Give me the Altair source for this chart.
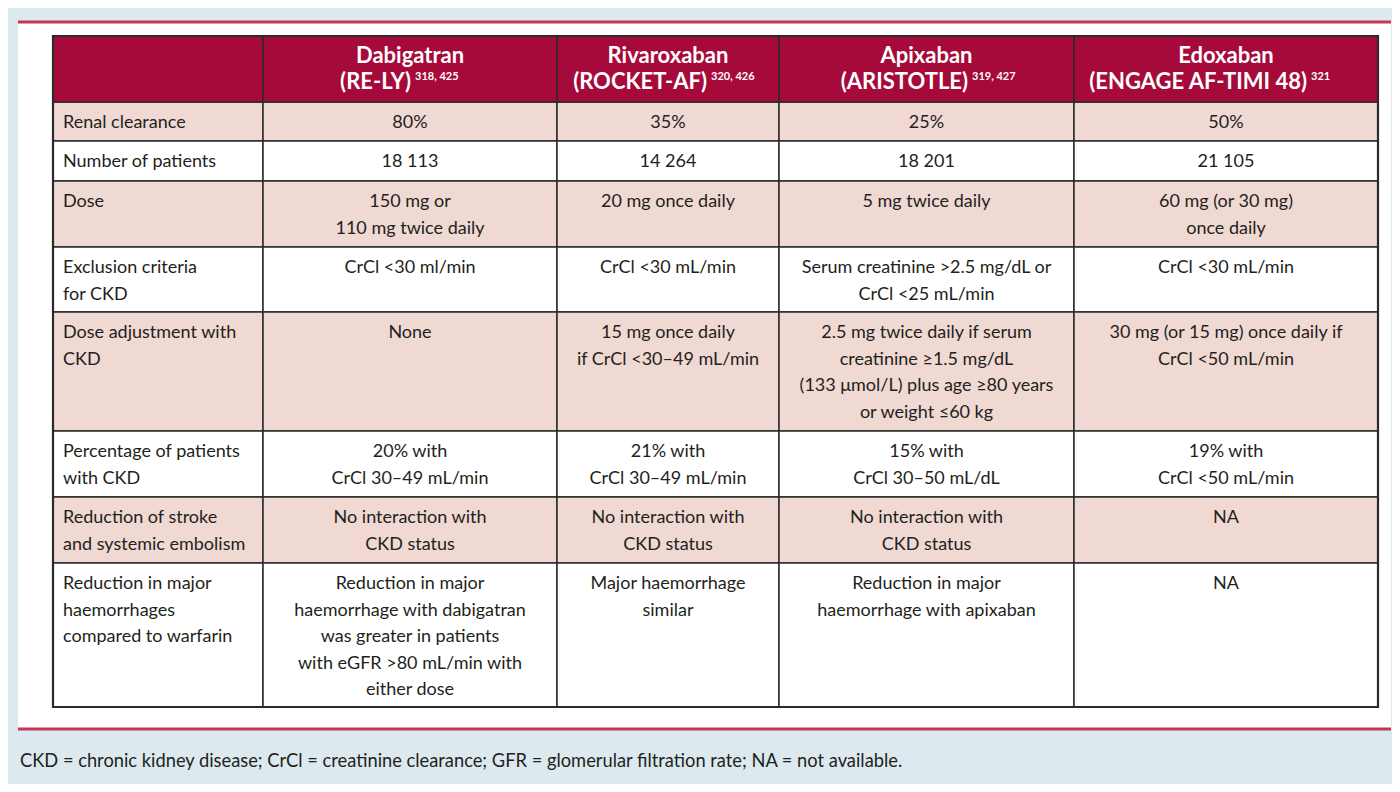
import altair as alt
import pandas as pd

# ---------------- data ----------------
drugs = ["Dabigatran", "Rivaroxaban", "Apixaban", "Edoxaban"]
trials = ["(RE-LY)", "(ROCKET-AF)", "(ARISTOTLE)", "(ENGAGE AF-TIMI 48)"]
trial_refs = ["318, 425", "320, 426", "319, 427", "321"]

row_labels = [
    "Renal clearance",
    "Number of patients",
    "Dose",
    "Exclusion criteria\nfor CKD",
    "Dose adjustment with\nCKD",
    "Percentage of patients\nwith CKD",
    "Reduction of stroke\nand systemic embolism",
    "Reduction in major\nhaemorrhages\ncompared to warfarin",
]

dabigatran = [
    "80%",
    "18 113",
    "150 mg or\n110 mg twice daily",
    "CrCl <30 ml/min",
    "None",
    "20% with\nCrCl 30–49 mL/min",
    "No interaction with\nCKD status",
    "Reduction in major\nhaemorrhage with dabigatran\nwas greater in patients\nwith eGFR >80 mL/min with\neither dose",
]
rivaroxaban = [
    "35%",
    "14 264",
    "20 mg once daily",
    "CrCl <30 mL/min",
    "15 mg once daily\nif CrCl <30–49 mL/min",
    "21% with\nCrCl 30–49 mL/min",
    "No interaction with\nCKD status",
    "Major haemorrhage\nsimilar",
]
apixaban = [
    "25%",
    "18 201",
    "5 mg twice daily",
    "Serum creatinine >2.5 mg/dL or\nCrCl <25 mL/min",
    "2.5 mg twice daily if serum\ncreatinine ≥1.5 mg/dL\n(133 μmol/L) plus age ≥80 years\nor weight ≤60 kg",
    "15% with\nCrCl 30–50 mL/dL",
    "No interaction with\nCKD status",
    "Reduction in major\nhaemorrhage with apixaban",
]
edoxaban = [
    "50%",
    "21 105",
    "60 mg (or 30 mg)\nonce daily",
    "CrCl <30 mL/min",
    "30 mg (or 15 mg) once daily if\nCrCl <50 mL/min",
    "19% with\nCrCl <50 mL/min",
    "NA",
    "NA",
]

footnote = ("CKD = chronic kidney disease; CrCl = creatinine clearance; "
            "GFR = glomerular filtration rate; NA = not available.")

# ---------------- layout (page pixel coordinates) ----------------
W, H = 1384, 776
col_edges = [53, 263, 557, 779, 1074, 1378]
header_top, header_bottom = 36, 102
row_edges = [102, 141, 181, 247, 312, 431, 497, 563, 707]
sup_split = [411, 707, 968, 1307]
panel = dict(x=18, x2=1391, y=22, y2=729)

FONT = "Lato"
HEADER_RED = "#a50a3a"
PINK = "#f0d8d3"
LINE = "#2a2a2a"
TEXT = "#231f20"
ACCENT = "#c8345a"
BG = "#dce9ef"

xs = alt.Scale(domain=[8, 8 + W], range=[0, W], nice=False, zero=False)
ys = alt.Scale(domain=[8, 8 + H], range=[0, H], nice=False, zero=False)

def X(f):
    return alt.X(f"{f}:Q", scale=xs, axis=None)

def Y(f):
    return alt.Y(f"{f}:Q", scale=ys, axis=None)

# ---------------- build tables ----------------
columns = [dabigatran, rivaroxaban, apixaban, edoxaban]
cells, left_texts, center_texts = [], [], []
for i, label in enumerate(row_labels):
    top, bot = row_edges[i], row_edges[i + 1]
    fill = PINK if i % 2 == 0 else "#ffffff"
    values = [label] + [c[i] for c in columns]
    for j, val in enumerate(values):
        l, r = col_edges[j], col_edges[j + 1]
        cells.append(dict(x=l, x2=r, y=top, y2=bot, fill=fill))
        if j == 0:
            left_texts.append(dict(tx=l + 10, ty=top + 26, text=val))
        else:
            center_texts.append(dict(tx=(l + r) / 2, ty=top + 26, text=val))
cells_df = pd.DataFrame(cells)
left_df = pd.DataFrame(left_texts)
center_df = pd.DataFrame(center_texts)

hdr_cells = pd.DataFrame([
    dict(x=col_edges[j], x2=col_edges[j + 1], y=header_top, y2=header_bottom)
    for j in range(5)
])
hdr_l1 = pd.DataFrame([
    dict(tx=(col_edges[j + 1] + col_edges[j + 2]) / 2, ty=63, text=d)
    for j, d in enumerate(drugs)
])
hdr_l2 = pd.DataFrame([
    dict(tx=sup_split[j], ty=89, text=t) for j, t in enumerate(trials)
])
hdr_sup = pd.DataFrame([
    dict(tx=sup_split[j] + 4, ty=80, text=s) for j, s in enumerate(trial_refs)
])

# ---------------- layers ----------------
panel_df = pd.DataFrame([panel])
panel_layer = alt.Chart(panel_df).mark_rect(fill="#ffffff").encode(
    x=X("x"), x2="x2", y=Y("y"), y2="y2")

rules_df = pd.DataFrame([
    dict(x=panel["x"], x2=panel["x2"], y=panel["y"]),
    dict(x=panel["x"], x2=panel["x2"], y=panel["y2"]),
])
rules_layer = alt.Chart(rules_df).mark_rule(color=ACCENT, strokeWidth=3).encode(
    x=X("x"), x2="x2", y=Y("y"))

cell_layer = alt.Chart(cells_df).mark_rect(stroke=LINE, strokeWidth=1.5).encode(
    x=X("x"), x2="x2", y=Y("y"), y2="y2",
    fill=alt.Fill("fill:N", scale=None))

hdr_layer = alt.Chart(hdr_cells).mark_rect(
    fill=HEADER_RED, stroke=LINE, strokeWidth=1.5).encode(
    x=X("x"), x2="x2", y=Y("y"), y2="y2")

outer_df = pd.DataFrame([dict(x=col_edges[0], x2=col_edges[-1],
                              y=header_top, y2=row_edges[-1])])
outer_layer = alt.Chart(outer_df).mark_rect(
    fillOpacity=0, stroke=LINE, strokeWidth=2.2).encode(
    x=X("x"), x2="x2", y=Y("y"), y2="y2")

text_left = alt.Chart(left_df).mark_text(
    font=FONT, fontSize=18, color=TEXT, align="left", baseline="alphabetic",
    lineBreak="\n", lineHeight=26.5).encode(
    x=X("tx"), y=Y("ty"), text="text:N")

text_center = alt.Chart(center_df).mark_text(
    font=FONT, fontSize=18, color=TEXT, align="center", baseline="alphabetic",
    lineBreak="\n", lineHeight=26.5).encode(
    x=X("tx"), y=Y("ty"), text="text:N")

h1 = alt.Chart(hdr_l1).mark_text(
    font=FONT, fontSize=22, fontWeight="bold", color="#ffffff",
    align="center", baseline="alphabetic").encode(
    x=X("tx"), y=Y("ty"), text="text:N")
h2 = alt.Chart(hdr_l2).mark_text(
    font=FONT, fontSize=22, fontWeight="bold", color="#ffffff",
    align="right", baseline="alphabetic").encode(
    x=X("tx"), y=Y("ty"), text="text:N")
h3 = alt.Chart(hdr_sup).mark_text(
    font=FONT, fontSize=11, fontWeight="bold", color="#ffffff",
    align="left", baseline="alphabetic").encode(
    x=X("tx"), y=Y("ty"), text="text:N")

foot_df = pd.DataFrame([dict(tx=20, ty=767, text=footnote)])
foot = alt.Chart(foot_df).mark_text(
    font=FONT, fontSize=18.3, color=TEXT, align="left",
    baseline="alphabetic").encode(x=X("tx"), y=Y("ty"), text="text:N")

chart = alt.layer(
    panel_layer, rules_layer, cell_layer, hdr_layer, outer_layer,
    text_left, text_center, h1, h2, h3, foot,
).properties(
    width=W, height=H,
    autosize=alt.AutoSizeParams(type="none"),
    padding=0,
    background=BG,
).configure_view(strokeWidth=0)

chart.save("out.html", embed_options={"renderer": "svg", "actions": False})
